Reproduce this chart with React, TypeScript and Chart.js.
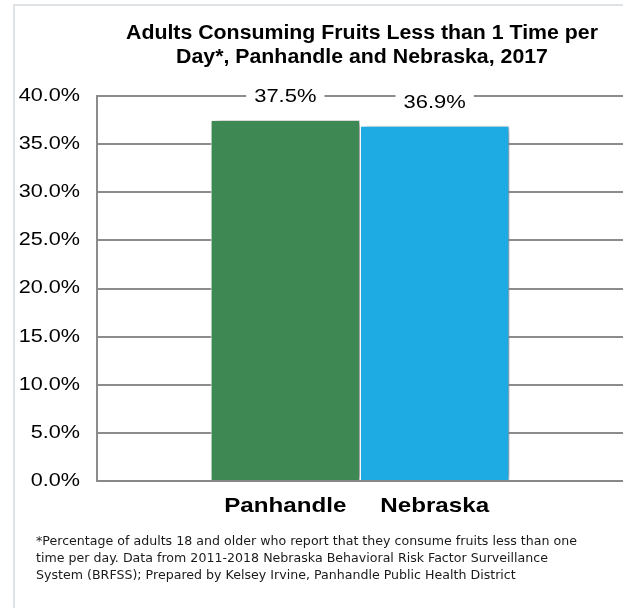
import React, { useEffect, useRef } from "react";
import { Chart, registerables } from "chart.js";

Chart.register(...registerables);

const titleLines = ["Adults Consuming Fruits Less than 1 Time per", "Day*, Panhandle and Nebraska, 2017"];
const regions = ["Panhandle", "Nebraska"];
const values = [37.5, 36.9];
const colors = ["#3e8853", "#1eabe3"];
const yTicks = [0, 5, 10, 15, 20, 25, 30, 35, 40];
const footnoteLines = [
  "*Percentage of adults 18 and older who report that they consume fruits less than one",
  "time per day. Data from 2011-2018 Nebraska Behavioral Risk Factor Surveillance",
  "System (BRFSS); Prepared by Kelsey Irvine, Panhandle Public Health District",
];

const FONT = "'Liberation Sans', Arial, sans-serif";

function drawText(ctx: any, text: string, x: number, y: number, font: string, sx: number, align: string) {
  ctx.save();
  ctx.font = font;
  ctx.translate(x, y);
  ctx.scale(sx, 1);
  ctx.textAlign = align;
  ctx.textBaseline = "middle";
  ctx.fillText(text, 0, 0);
  ctx.restore();
}

const overlay = {
  id: "overlay",
  beforeDatasetsDraw(chart: any) {
    const ctx = chart.ctx;
    ctx.save();
    ctx.shadowColor = "rgba(0,0,0,0.45)";
    ctx.shadowBlur = 7;
    ctx.shadowOffsetX = 4;
    ctx.shadowOffsetY = 1;
  },
  afterDatasetsDraw(chart: any) {
    const ctx = chart.ctx;
    ctx.restore();
    ctx.save();
    const area = chart.chartArea;
    ctx.fillStyle = "#000";
    // title
    const tFont = `bold 20px ${FONT}`;
    ctx.font = tFont;
    const tw = ctx.measureText(titleLines[0]).width;
    const tsx = 472 / tw;
    titleLines.forEach((t, i) => drawText(ctx, t, 362, 33 + i * 24, tFont, tsx, "center"));
    // y tick labels
    const yScale = chart.scales.y;
    yTicks.forEach((v) => {
      drawText(ctx, v.toFixed(1) + "%", 80, yScale.getPixelForValue(v), `18px ${FONT}`, 1.2, "right");
    });
    chart.data.datasets.forEach((ds: any, i: number) => {
      const meta = chart.getDatasetMeta(i);
      const el = meta.data[0];
      if (!el) return;
      const x = el.x;
      const y = el.y;
      const label = ds.data[0].toFixed(1) + "%";
      const vFont = `18px ${FONT}`;
      ctx.font = vFont;
      const w = ctx.measureText(label).width * 1.22;
      ctx.fillStyle = "#fff";
      ctx.fillRect(x - w / 2 - 8, y - 35, w + 16, 23);
      ctx.fillStyle = "#000";
      drawText(ctx, label, x, y - 23, vFont, 1.22, "center");
      drawText(ctx, ds.label, x, area.bottom + 25, `bold 21px ${FONT}`, 1.15, "center");
    });
    // footnote
    const fFont = "12.5px 'DejaVu Sans', sans-serif";
    ctx.font = fFont;
    const fw = ctx.measureText(footnoteLines[0]).width;
    const fsx = 541 / fw;
    ctx.fillStyle = "#1a1a1a";
    footnoteLines.forEach((l, i) => drawText(ctx, l, 36, 542 + i * 17, fFont, fsx, "left"));
    ctx.restore();
  },
};

export default function App() {
  const ref = useRef<HTMLCanvasElement | null>(null);
  useEffect(() => {
    if (!ref.current) return;
    const chart = new Chart(ref.current, {
      type: "bar",
      data: {
        labels: [""],
        datasets: regions.map((r, i) => ({
          label: r,
          data: [values[i]],
          backgroundColor: colors[i],
          borderColor: "#ffffff",
          borderWidth: 1,
          borderSkipped: "bottom",
        })),
      },
      options: {
        responsive: false,
        animation: false,
        layout: { padding: { top: 96, bottom: 127, left: 0, right: 0 } },
        plugins: {
          legend: { display: false },
          title: { display: false },
          tooltip: { enabled: false },
        },
        datasets: { bar: { categoryPercentage: 0.568, barPercentage: 1 } },
        scales: {
          x: {
            ticks: { display: false },
            grid: { display: false, drawTicks: false },
            border: { display: true, color: "#888888", width: 2 },
          },
          y: {
            min: 0,
            max: 40,
            afterFit: (s: any) => {
              s.width = 97;
            },
            afterBuildTicks: (s: any) => {
              s.ticks = yTicks.map((v) => ({ value: v }));
            },
            ticks: { display: false },
            grid: { color: "#8c8c8c", lineWidth: 2, drawTicks: false },
            border: { display: true, color: "#8c8c8c", width: 2 },
          },
        },
      } as any,
      plugins: [overlay],
    });
    return () => chart.destroy();
  }, []);
  return (
    <div style={{ position: "fixed", left: 0, top: 0, width: 623, height: 608, background: "#fff", overflow: "hidden" }}>
      <div style={{ position: "absolute", left: 13, top: 4, right: -10, bottom: -10, borderLeft: "2px solid #dfe2e5", borderTop: "2px solid #dfe2e5" }} />
      <canvas ref={ref} width={623} height={608} style={{ position: "absolute", left: 0, top: 0 }} />
    </div>
  );
}
